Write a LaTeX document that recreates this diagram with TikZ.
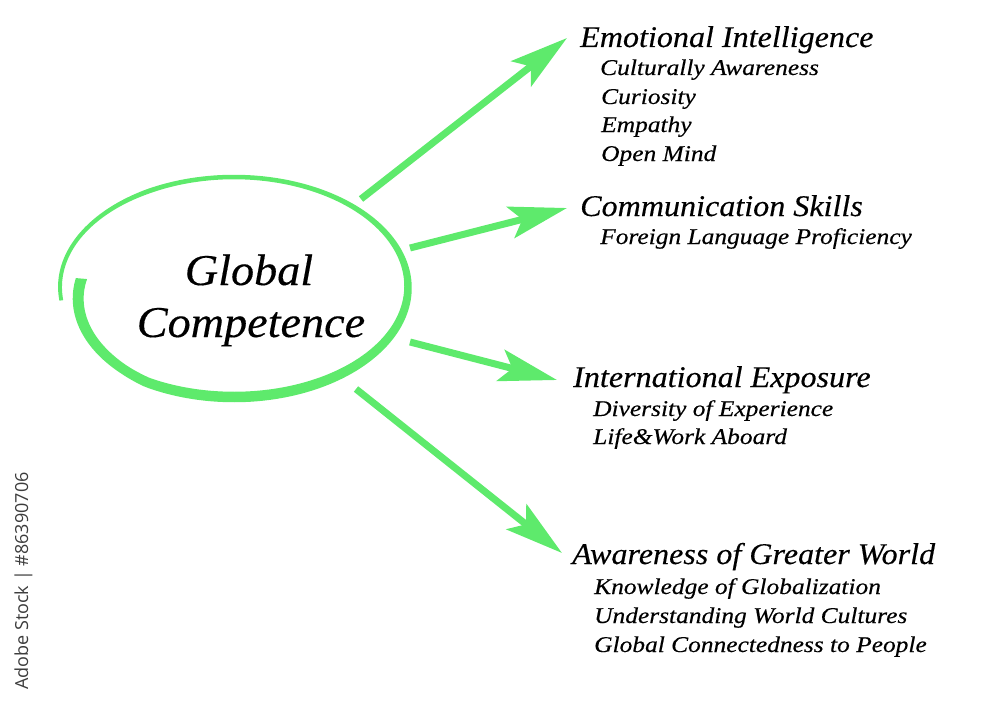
\documentclass[tikz,border=0pt]{standalone}
\usepackage{fontspec}
\setmainfont{Liberation Serif}
\newfontfamily\hfont{Liberation Serif}[FakeStretch=1.07, FakeBold=0.3]
\newfontfamily\sfontx{Liberation Serif}[FakeStretch=1.13, FakeBold=0.3]
\newfontfamily\tfont{Liberation Serif}[FakeStretch=1.05, FakeBold=0.3]
\newfontfamily\wmfont{Open Sans}
\usetikzlibrary{arrows.meta}
\definecolor{gcgreen}{RGB}{94,234,108}
\definecolor{wmgrey}{RGB}{60,60,60}
\tikzset{
  head/.style={anchor=base west, inner sep=0pt, font=\hfont\fontsize{30}{36}\selectfont\itshape},
  sub/.style={anchor=base west, inner sep=0pt, font=\sfontx\fontsize{22.5}{26}\selectfont\itshape},
  title/.style={anchor=base, inner sep=0pt, font=\tfont\fontsize{44}{52}\selectfont\itshape},
  arr/.style={draw=gcgreen, line width=7pt, -{Stealth[length=58pt, width=32pt, inset=12pt]}},
  declare function={sc(\t)=1-0.12*max(0,(\t-120)/65); wd(\t)=7.5+3*sin(\t)-4*max(0,(-120-\t)/67)+4*max(0,(\t-130)/55);}
}
\begin{document}
\begin{tikzpicture}[x=1pt,y=-1pt]
\useasboundingbox (0,0) rectangle (1000,706);
% hand-drawn ellipse
\fill[gcgreen] plot[domain=185:-187, samples=220, variable=\t]
  ({234+(sc(\t)*174+wd(\t)/2)*cos(\t)}, {287+(sc(\t)*110+wd(\t)/2)*sin(\t)})
  -- plot[domain=-187:185, samples=220, variable=\t]
  ({234+(sc(\t)*174-wd(\t)/2)*cos(\t)}, {287+(sc(\t)*110-wd(\t)/2)*sin(\t)}) -- cycle;
% title
\node[title] (g1) at (249,285) {Global};
\node[title] (g2) at (251,337) {Competence};
% headings and items
\node[head] (h1) at (580,47) {Emotional Intelligence};
\node[sub] (s11) at (600,75) {Culturally Awareness};
\node[sub] (s12) at (601,104) {Curiosity};
\node[sub] (s13) at (601,132) {Empathy};
\node[sub] (s14) at (601,161) {Open Mind};
\node[head] (h2) at (580,216) {Communication Skills};
\node[sub] (s21) at (600,244) {Foreign Language Proficiency};
\node[head] (h3) at (573,387) {International Exposure};
\node[sub] (s31) at (593,416) {Diversity of Experience};
\node[sub] (s32) at (593,444) {Life\&Work Aboard};
\node[head] (h4) at (572,564) {Awareness of Greater World};
\node[sub] (s41) at (594,594) {Knowledge of Globalization};
\node[sub] (s42) at (594,623) {Understanding World Cultures};
\node[sub] (s43) at (594,652) {Global Connectedness to People};
% arrow ends
\coordinate (a1) at (361,199);
\coordinate (b1) at (567,38);
\coordinate (a2) at (410,248);
\coordinate (b2) at (567,208);
\coordinate (a3) at (410,342);
\coordinate (b3) at (557,380);
\coordinate (a4) at (356,389);
\coordinate (b4) at (562,553);
\draw[arr] (a1) -- (b1);
\draw[arr] (a2) -- (b2);
\draw[arr] (a3) -- (b3);
\draw[arr] (a4) -- (b4);
% watermark label
\node[rotate=90, anchor=base west, inner sep=0pt, text=wmgrey, font=\wmfont\fontsize{18}{22}\selectfont] (wm) at (28,690) {Adobe Stock | \#86390706};
\end{tikzpicture}
\end{document}
